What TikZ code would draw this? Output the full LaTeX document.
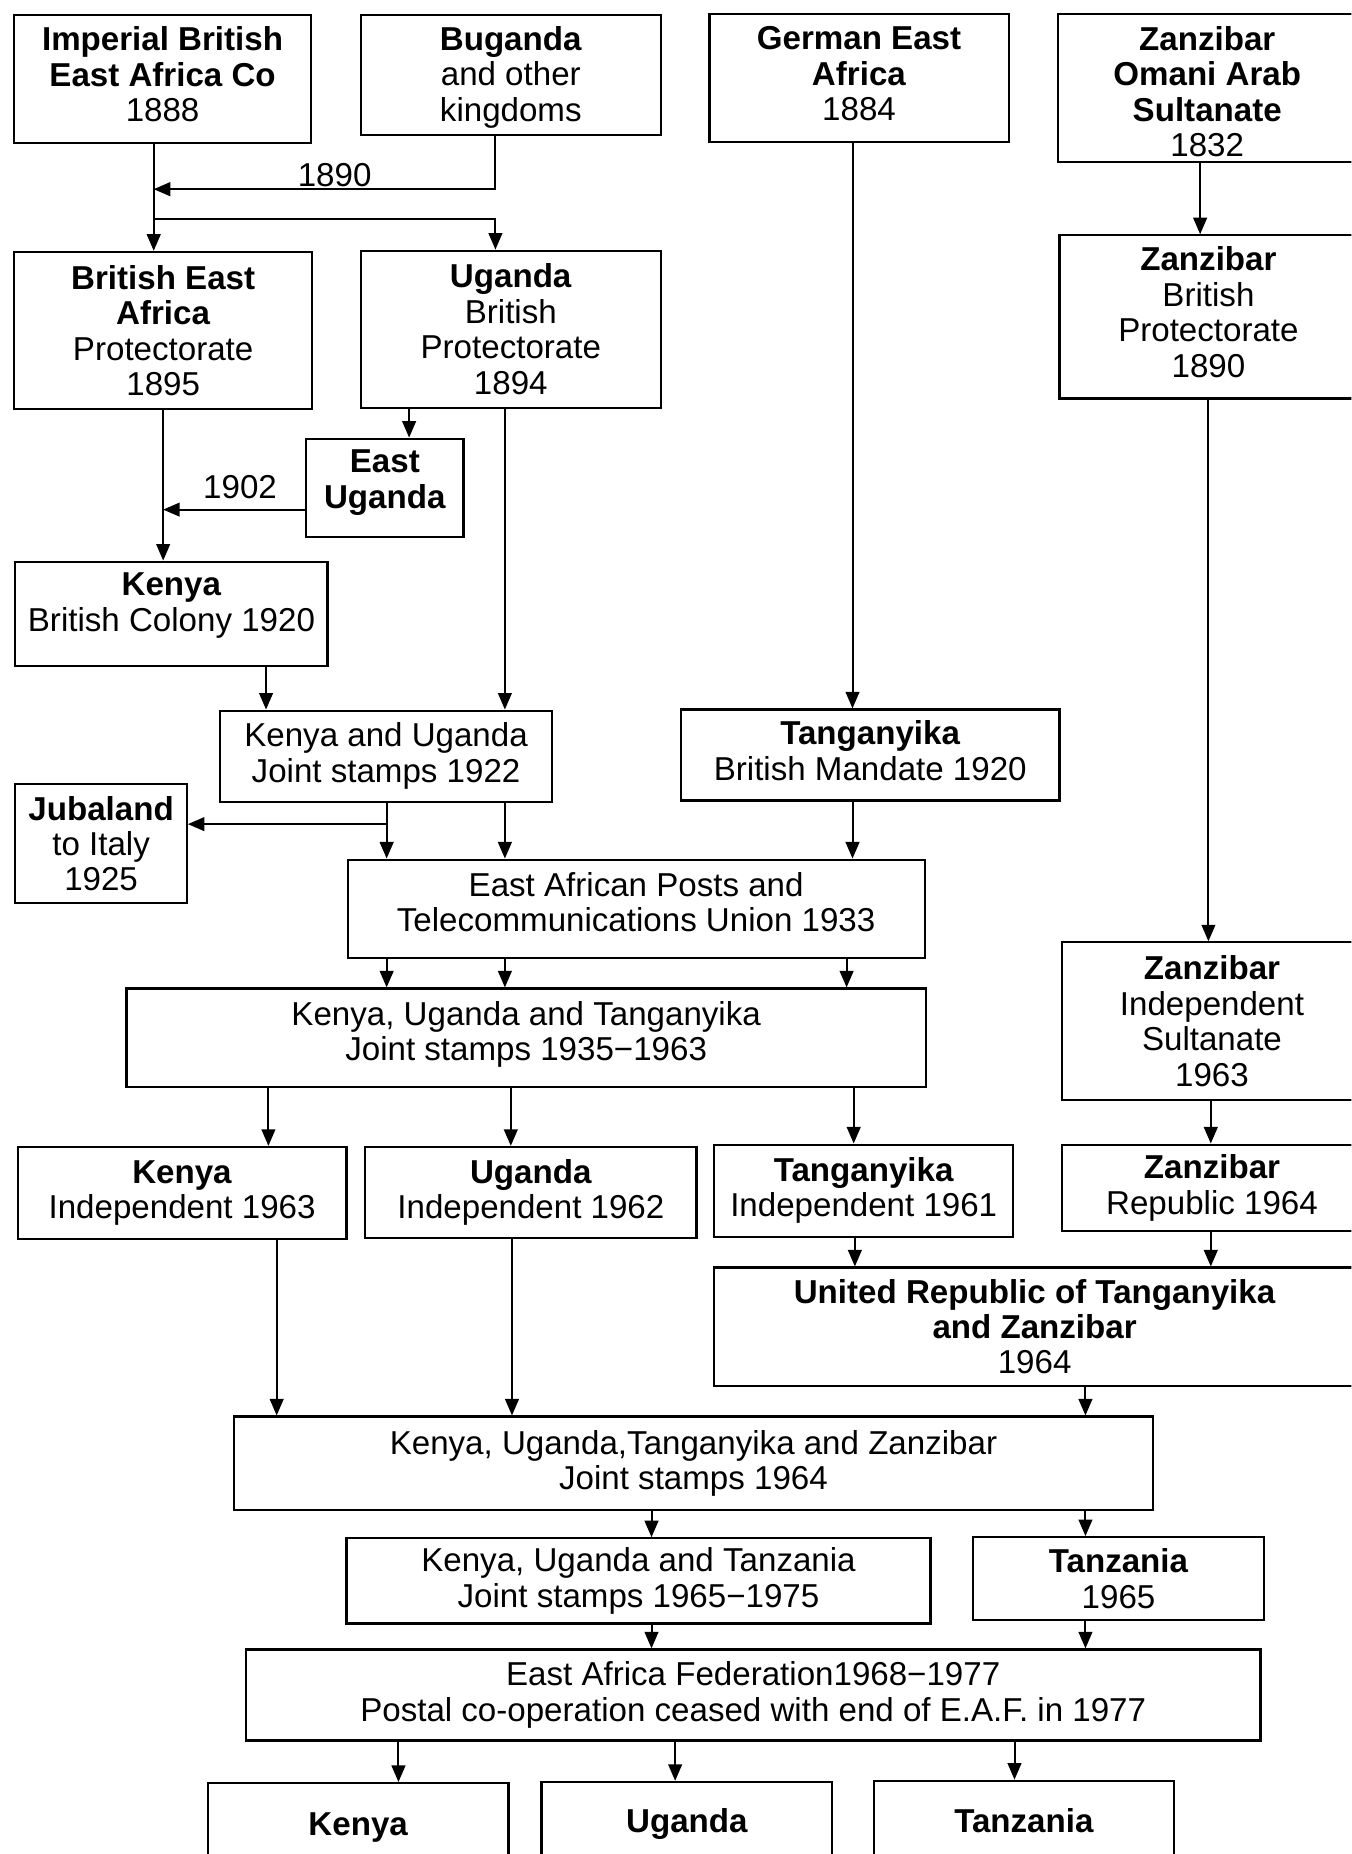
\documentclass[tikz,border=0pt]{standalone}
\usepackage{fontspec}
\setmainfont{Liberation Sans}
\usetikzlibrary{arrows.meta}
\newcommand\varr[3]{\path (#3,0) coordinate (tmpx); \draw[conn] (#1.south -| tmpx) -- (#2.north -| tmpx);}
\newcommand\rt[2]{\raisebox{#1}[\height][\depth]{\begin{tabular}{@{}c@{}}#2\end{tabular}}}
\begin{document}
\begin{tikzpicture}[x=0.5pt,y=-0.5pt,
  box/.style={draw, line width=0.9pt, inner sep=0pt, align=center, font=\fontsize{14}{15}\selectfont},
  sz/.style 2 args={minimum width=#1*0.5pt, minimum height=#2*0.5pt},
  conn/.style={line width=0.85pt, -{Triangle[length=7pt,width=5.8pt]}},
  lbl/.style={font=\fontsize{14}{15}\selectfont, inner sep=0pt}]
\useasboundingbox (0,0) rectangle (1143,1568);
\fill[white] (0,0) rectangle (1143,1568);
\clip (0,0) rectangle (1143,1568);

\node[box, sz={251}{108}] (imp) at (137.5,67) {\rt{0pt}{\textbf{Imperial British}\\\textbf{East Africa Co}\\1888}};
\node[box, sz={254}{101}] (bug) at (432,63.5) {\rt{-1.5pt}{\textbf{Buganda}\\and other\\kingdoms}};
\node[box, sz={253}{108}] (gea) at (726.5,66) {\rt{0pt}{\textbf{German East}\\\textbf{Africa}\\1884}};
\node[box, sz={252}{125}] (zom) at (1021,74.5) {\rt{-3.5pt}{\textbf{Zanzibar}\\\textbf{Omani Arab}\\\textbf{Sultanate}\\1832}};
\node[box, sz={252}{133}] (bea) at (138,279.5) {\textbf{British East}\\\textbf{Africa}\\Protectorate\\1895};
\node[box, sz={254}{133}] (ubp) at (432,278.5) {\textbf{Uganda}\\British\\Protectorate\\1894};
\node[box, sz={252}{138}] (zbp) at (1022,268) {\rt{0pt}{\textbf{Zanzibar}\\British\\Protectorate\\1890}};
\node[box, sz={133}{83}] (eug) at (325.5,412.5) {\rt{1.75pt}{\textbf{East}\\\textbf{Uganda}}};
\node[box, sz={264}{88}] (kbc) at (145,519) {\rt{3pt}{\textbf{Kenya}\\British Colony 1920}};
\node[box, sz={281}{77}] (kuj) at (326.5,639.5) {Kenya and Uganda\\Joint stamps 1922};
\node[box, sz={320}{77}] (tbm) at (736,638.5) {\rt{-0.25pt}{\textbf{Tanganyika}\\British Mandate 1920}};
\node[box, sz={145}{101}] (jub) at (85.5,713.5) {\textbf{Jubaland}\\to Italy\\1925};
\node[box, sz={488}{83}] (eaptu) at (538,768.5) {\rt{0.75pt}{East African Posts and\\Telecommunications Union 1933}};
\node[box, sz={254}{133}] (zind) at (1025,863.5) {\textbf{Zanzibar}\\Independent\\Sultanate\\1963};
\node[box, sz={676}{83}] (kut) at (445,877.5) {\rt{0.75pt}{Kenya, Uganda and Tanganyika\\Joint stamps 1935−1963}};
\node[box, sz={278}{78}] (kind) at (154,1009) {\textbf{Kenya}\\Independent 1963};
\node[box, sz={280}{77}] (uind) at (449,1008.5) {\textbf{Uganda}\\Independent 1962};
\node[box, sz={253}{78}] (tind) at (730.5,1007) {\textbf{Tanganyika}\\Independent 1961};
\node[box, sz={254}{73}] (zrep) at (1025,1004.5) {\textbf{Zanzibar}\\Republic 1964};
\node[box, sz={542}{100}] (urep) at (875,1122) {\textbf{United Republic of Tanganyika}\\\textbf{and Zanzibar}\\1964};
\node[box, sz={777}{79}] (kutz) at (586.5,1237.5) {Kenya, Uganda,Tanganyika and Zanzibar\\Joint stamps 1964};
\node[box, sz={494}{72}] (kutanz) at (540,1337) {Kenya, Uganda and Tanzania\\Joint stamps 1965−1975};
\node[box, sz={246}{70}] (tanz) at (946,1335) {\textbf{Tanzania}\\1965};
\node[box, sz={858}{77}] (eaf) at (637,1433.5) {East Africa Federation1968−1977\\Postal co-operation ceased with end of E.A.F. in 1977};
\node[box, sz={254}{72}] (kfin) at (303,1544) {\rt{-1pt}{\textbf{Kenya}}};
\node[box, sz={246}{72}] (ufin) at (581,1543) {\textbf{Uganda}};
\node[box, sz={254}{72}] (tfin) at (866,1542) {\rt{-1pt}{\textbf{Tanzania}}};

\node[lbl] (l1890) at (283,148) {1890};
\node[lbl] (l1902) at (203,412) {1902};

% top-left merge
\coordinate (jA) at (130,160);
\coordinate (jB) at (130,185);
\coordinate (jC) at (419,185);
\draw[conn] (imp.south -| jB) -- (bea.north -| jB);
\draw[conn] (bug.south -| jC) |- (jA);
\draw[conn] (jB) -| (ubp.north -| jC);

\varr{zom}{zbp}{1015}
\varr{gea}{tbm}{721}
\varr{ubp}{eug}{346}
\varr{bea}{kbc}{138}
\coordinate (j1902) at (138,431);
\draw[conn] (eug.west |- j1902) -- (j1902);
\varr{ubp}{kuj}{427}
\varr{kbc}{kuj}{225}
\varr{kuj}{eaptu}{327}
\coordinate (jJ) at (327,697);
\draw[conn] (jJ) -- (jub.east |- jJ);
\varr{kuj}{eaptu}{427}
\varr{tbm}{eaptu}{721}
\varr{zbp}{zind}{1022}
\varr{eaptu}{kut}{327}
\varr{eaptu}{kut}{427}
\varr{eaptu}{kut}{716}
\varr{kut}{kind}{227}
\varr{kut}{uind}{432}
\varr{kut}{tind}{722}
\varr{zind}{zrep}{1024}
\varr{tind}{urep}{723}
\varr{zrep}{urep}{1024}
\varr{kind}{kutz}{234}
\varr{uind}{kutz}{433}
\varr{urep}{kutz}{918}
\varr{kutz}{kutanz}{551}
\varr{kutz}{tanz}{918}
\varr{kutanz}{eaf}{551}
\varr{tanz}{eaf}{918}
\varr{eaf}{kfin}{337}
\varr{eaf}{ufin}{571}
\varr{eaf}{tfin}{858}
\end{tikzpicture}
\end{document}
